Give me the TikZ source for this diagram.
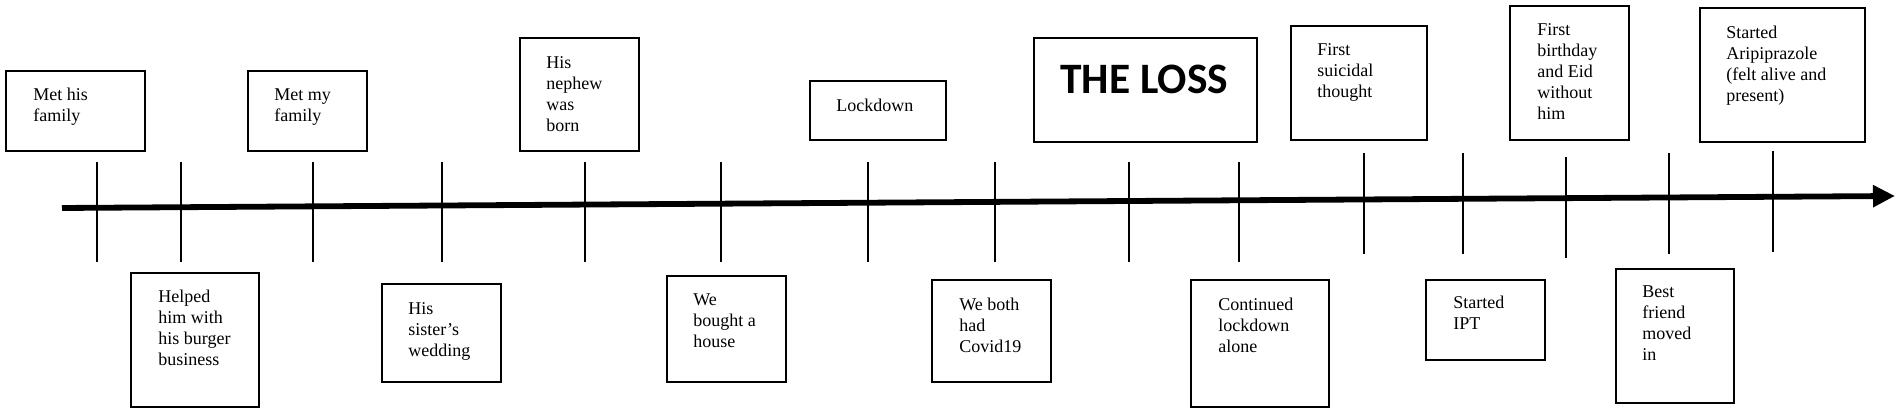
\documentclass[tikz,border=0pt]{standalone}
\usepackage{fontspec}
\setmainfont{Liberation Serif}
\newfontfamily\lossfont{Carlito}
\usetikzlibrary{arrows.meta,fit}
\begin{document}
\begin{tikzpicture}[x=0.5pt,y=-0.5pt,
  evbox/.style={draw, line width=1pt, inner sep=0pt},
  evtext/.style={anchor=base west, align=left, inner sep=0pt, font=\fontsize{9}{10.5}\selectfont},
  losstext/.style={anchor=base west, inner sep=0pt, font=\lossfont\bfseries\fontsize{21.7}{26}\selectfont},
  tickline/.style={line width=1pt},
  axisline/.style={line width=2.9pt, -{Triangle[length=11pt,width=10.5pt]}}]
\useasboundingbox (0,0) rectangle (1902,415);
% timeline
\coordinate (tl0) at (62,208);
\coordinate (tl1) at (1895,196);
\draw[axisline] (tl0) -- (tl1);
% ticks
\foreach \x/\ya/\yb in {97/162/262,181/162/262,313/162/262,442/162/262,585/162/262,721/162/262,868/162/262,995/162/262,1129/162/262,1239/162/262,1364/153/254,1463/153/254,1566/157/258,1669/153/254,1773/151/252}
  \draw[tickline] (\x,\ya) -- (\x,\yb);
% top boxes (text nodes placed at the baseline of their last line)
\node[evbox, fit={(6,71) (145,151)}] (b1) {};
\node[evtext] (t1) at (33,122) {Met his\\family};
\node[evbox, fit={(248,71) (367,151)}] (b2) {};
\node[evtext] (t2) at (274,122) {Met my\\family};
\node[evbox, fit={(520,38) (639,151)}] (b3) {};
\node[evtext] (t3) at (546,132) {His\\nephew\\was\\born};
\node[evbox, fit={(810,81) (946,140)}] (b4) {};
\node[evtext] (t4) at (836,112) {Lockdown};
\node[evbox, fit={(1034,38) (1257,142)}] (b5) {};
\node[losstext] (t5) at (1060,94) {THE LOSS};
\node[evbox, fit={(1291,26) (1427,140)}] (b6) {};
\node[evtext] (t6) at (1317,98) {First\\suicidal\\thought};
\node[evbox, fit={(1510,6) (1629,140)}] (b7) {};
\node[evtext] (t7) at (1537,120) {First\\birthday\\and Eid\\without\\him};
\node[evbox, fit={(1700,8) (1865,142)}] (b8) {};
\node[evtext] (t8) at (1726,102) {Started\\Aripiprazole\\(felt alive and\\present)};
% bottom boxes
\node[evbox, fit={(131,273) (259,407)}] (b9) {};
\node[evtext] (t9) at (158,366) {Helped\\him with\\his burger\\business};
\node[evbox, fit={(382,284) (501,382)}] (b10) {};
\node[evtext] (t10) at (408,357) {His\\sister’s\\wedding};
\node[evbox, fit={(667,276) (786,382)}] (b11) {};
\node[evtext] (t11) at (693,348) {We\\bought a\\house};
\node[evbox, fit={(932,280) (1051,382)}] (b12) {};
\node[evtext] (t12) at (959,353) {We both\\had\\Covid19};
\node[evbox, fit={(1191,280) (1329,407)}] (b13) {};
\node[evtext] (t13) at (1218,353) {Continued\\lockdown\\alone};
\node[evbox, fit={(1426,280) (1545,360)}] (b14) {};
\node[evtext] (t14) at (1453,330) {Started\\IPT};
\node[evbox, fit={(1616,269) (1734,403)}] (b15) {};
\node[evtext] (t15) at (1642,361) {Best\\friend\\moved\\in};
\end{tikzpicture}
\end{document}
